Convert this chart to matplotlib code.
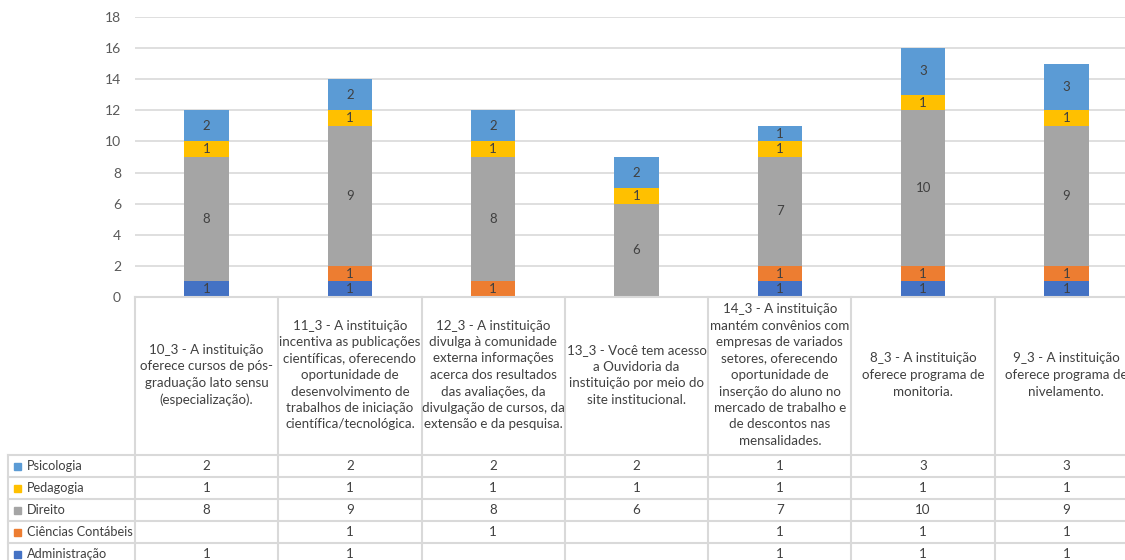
import matplotlib.pyplot as plt
import numpy as np

categories = [
    "10_3 - A instituição\noferece cursos de pós-\ngraduação lato sensu\n(especialização).",
    "11_3 - A instituição\nincentiva as publicações\ncientíficas, oferecendo\noportunidade de\n"
    "desenvolvimento de\ntrabalhos de iniciação\ncientífica/tecnológica.",
    "12_3 - A instituição\ndivulga à comunidade\nexterna informações\nacerca dos resultados\n"
    "das avaliações, da\ndivulgação de cursos, da\nextensão e da pesquisa.",
    "13_3 - Você tem acesso\na Ouvidoria da\ninstituição por meio do\nsite institucional.",
    "14_3 - A instituição\nmantém convênios com\nempresas de variados\nsetores, oferecendo\n"
    "oportunidade de\ninserção do aluno no\nmercado de trabalho e\nde descontos nas\nmensalidades.",
    "8_3 - A instituição\noferece programa de\nmonitoria.",
    "9_3 - A instituição\noferece programa de\nnivelamento.",
]

series_names = ["Administração", "Ciências Contábeis", "Direito", "Pedagogia", "Psicologia"]
administracao = [1, 1, None, None, 1, 1, 1]
ciencias_contabeis = [None, 1, 1, None, 1, 1, 1]
direito = [8, 9, 8, 6, 7, 10, 9]
pedagogia = [1, 1, 1, 1, 1, 1, 1]
psicologia = [2, 2, 2, 2, 1, 3, 3]
series_values = [administracao, ciencias_contabeis, direito, pedagogia, psicologia]
colors = ["#4472C4", "#ED7D31", "#A5A5A5", "#FFC000", "#5B9BD5"]

y_ticks = list(range(0, 19, 2))

plt.rcParams["font.family"] = ["Lato", "DejaVu Sans"]
TEXT = "#404040"
GRID = "#D9D9D9"

W, H = 1125, 560
fig = plt.figure(figsize=(W / 100, H / 100), dpi=100)

# plot area in pixel terms
left, right, top, base = 135, 1138, 17, 297
ax = fig.add_axes([left / W, 1 - base / H, (right - left) / W, (base - top) / H])
ax.patch.set_visible(False)

n = len(categories)
x = np.arange(n)
bottom = np.zeros(n)
for name, vals, col in zip(series_names, series_values, colors):
    v = np.array([0 if a is None else a for a in vals], dtype=float)
    ax.bar(x, v, 0.31, bottom=bottom, color=col, zorder=3, label=name)
    for xi, b, h in zip(x, bottom, v):
        if h:
            ax.text(xi, b + h / 2, f"{h:g}", ha="center", va="center",
                    fontsize=9.5, color=TEXT, zorder=4)
    bottom += v

ax.set_xlim(-0.5, n - 0.5)
ax.set_ylim(y_ticks[0], y_ticks[-1])
ax.set_yticks(y_ticks)
ax.set_xticks([])
ax.yaxis.grid(True, color=GRID, lw=1.2)
ax.set_axisbelow(True)
for s in ax.spines.values():
    s.set_visible(False)
ax.tick_params(axis="y", length=0, pad=10, labelcolor="#595959", labelsize=10)

# data table underneath, drawn in pixel coordinates
tax = fig.add_axes([0, 0, 1, 1])
tax.set_xlim(0, W)
tax.set_ylim(H, 0)
tax.axis("off")

col_w = (right - left) / n
edges = left + col_w * np.arange(n + 1)
centers = edges[:-1] + col_w / 2
header_bottom = 455
row_h = 22
legend_left = 8
n_rows = len(series_names)
row_tops = header_bottom + row_h * np.arange(n_rows + 1)

tax.plot([left, right], [base, base], color=GRID, lw=1.5)
for e in edges:
    tax.plot([e, e], [base, H + 5], color=GRID, lw=1.5)
tax.plot([legend_left, legend_left], [header_bottom, H + 5], color=GRID, lw=1.5)
for yt in row_tops:
    tax.plot([legend_left, right], [yt, yt], color=GRID, lw=1.5)

for cx, label in zip(centers, categories):
    tax.text(cx, (base + header_bottom) / 2 - 1, label, ha="center", va="center",
             fontsize=9.6, color=TEXT, linespacing=1.45)

for r, (name, vals, col) in enumerate(zip(series_names[::-1], series_values[::-1], colors[::-1])):
    yc = row_tops[r] + row_h / 2
    tax.add_patch(plt.Rectangle((14, yc - 3.5), 7, 7, color=col))
    tax.text(27, yc, name, ha="left", va="center", fontsize=9.2, color=TEXT)
    for cx, v in zip(centers, vals):
        if v is not None:
            tax.text(cx, yc, f"{v}", ha="center", va="center", fontsize=9.6, color=TEXT)

fig.savefig("out.png", dpi=100)
